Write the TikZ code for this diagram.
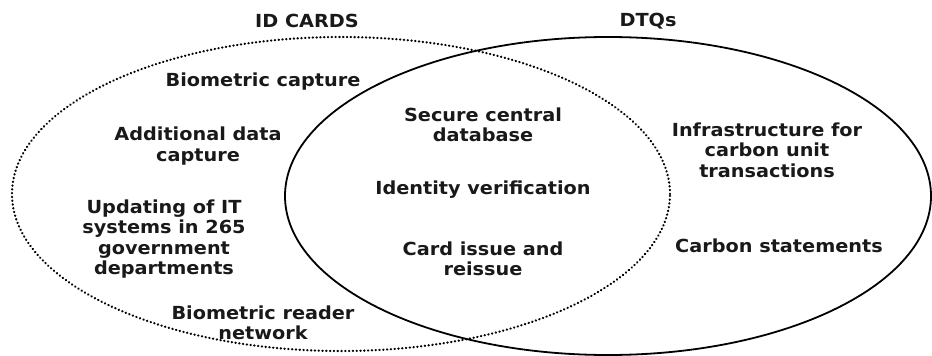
\documentclass[tikz,border=0pt]{standalone}
\usepackage{fontspec}
\setmainfont{DejaVu Sans}
\usetikzlibrary{shapes.geometric}
\begin{document}
\begin{tikzpicture}[x=1pt,y=-1pt,
  lbl/.style={font=\bfseries\fontsize{18}{20.5}\selectfont\addfontfeature{FakeStretch=1.07}, align=center, inner sep=0pt, text=black!90},
  setring/.style={ellipse, inner sep=0pt},
  dottedring/.style={setring, draw, line width=2.3pt, line cap=round, dash pattern=on 0.3pt off 3.5pt},
  solidring/.style={setring, draw, line width=1.8pt}]
\useasboundingbox (0,0) rectangle (932,356);
\node[dottedring, minimum width=658pt, minimum height=314pt] (idc) at (341,194) {};
\node[solidring, minimum width=646pt, minimum height=318pt] (dtq) at (608,196) {};
\node[lbl] (tid) at (307,21) {ID CARDS};
\node[lbl] (tdtq) at (648,21) {DTQs};
\node[lbl] (bio) at (263,82) {Biometric capture};
\node[lbl] (add) at (198,146) {Additional data\\capture};
\node[lbl] (upd) at (164,239) {Updating of IT\\systems in 265\\government\\departments};
\node[lbl] (brn) at (263,323) {Biometric reader\\network};
\node[lbl] (sec) at (483,125) {Secure central\\database};
\node[lbl] (idv) at (483,190) {Identity verification};
\node[lbl] (card) at (483,259) {Card issue and\\reissue};
\node[lbl] (inf) at (767,150) {Infrastructure for\\carbon unit\\transactions};
\node[lbl] (cst) at (779,246) {Carbon statements};
\end{tikzpicture}
\end{document}
